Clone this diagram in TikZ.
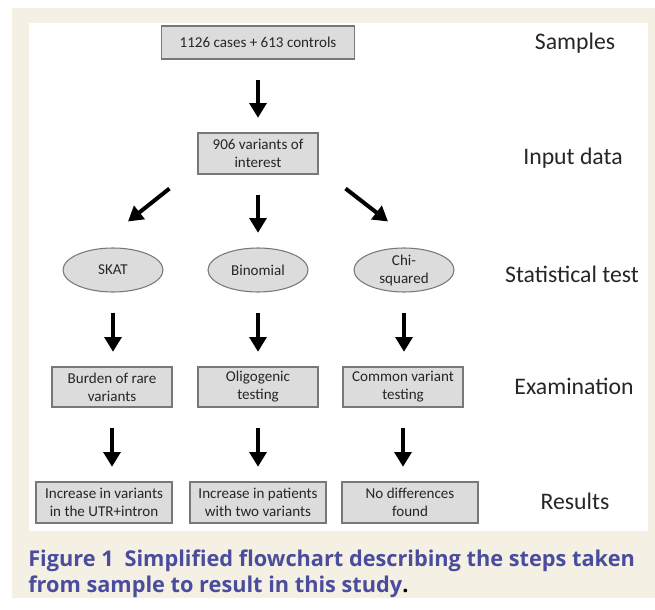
\documentclass[tikz,border=0pt]{standalone}
\usepackage{fontspec}
\setmainfont{Carlito}
\newfontfamily\capfont{Open Sans}
\usetikzlibrary{arrows.meta,shapes.geometric}

\definecolor{cream}{RGB}{244,240,227}
\definecolor{boxgray}{RGB}{220,220,220}
\definecolor{edgegray}{RGB}{120,120,120}
\definecolor{capblue}{RGB}{74,76,158}

\begin{document}
\begin{tikzpicture}[x=0.75pt, y=-0.75pt,
    stepbox/.style={draw=edgegray, fill=boxgray, line width=0.8pt, align=center,
        inner sep=0pt, font=\fontsize{11.3}{13.5}\selectfont, text=black!85},
    testoval/.style={ellipse, draw=edgegray, fill=boxgray, line width=0.8pt, align=center,
        inner sep=0pt, minimum width=75pt, minimum height=33pt,
        font=\fontsize{11.3}{13.5}\selectfont, text=black!85},
    stage/.style={font=\fontsize{17.8}{20}\selectfont, text=black!85},
    arr/.style={line width=3pt, -{Triangle[width=12.5pt, length=11pt]},
        shorten <=15pt, shorten >=11pt}]
    \useasboundingbox (0,0) rectangle (655,609);
    % background
    \fill[white] (0,0) rectangle (655,609);
    \fill[cream] (12,8) rectangle (655,598);
    \fill[white] (29,23) rectangle (648,531);

    % flow
    \node[stepbox, minimum width=144.75pt, minimum height=24.75pt] (samples) at (258,42.5) {1126 cases + 613 controls};
    \node[stepbox, minimum width=90pt, minimum height=30.75pt] (input) at (258,153.5) {906 variants of\\interest};

    \node[testoval] (skat) at (113,270) {SKAT};
    \node[testoval] (binom) at (258,270) {Binomial};
    \node[testoval] (chisq) at (404,270) {Chi-\\squared};

    \node[stepbox, minimum width=90pt, minimum height=30pt] (burden) at (112,387) {Burden of rare\\variants};
    \node[stepbox, minimum width=90pt, minimum height=30pt] (oligo) at (258,387) {Oligogenic\\testing};
    \node[stepbox, minimum width=90pt, minimum height=30pt] (common) at (403,387) {Common variant\\testing};

    \node[stepbox, minimum width=102pt, minimum height=30.75pt] (res1) at (104,502.5) {Increase in variants\\in the UTR+intron};
    \node[stepbox, minimum width=102pt, minimum height=30.75pt] (res2) at (258,502.5) {Increase in patients\\with two variants};
    \node[stepbox, minimum width=102pt, minimum height=30.75pt] (res3) at (410,502.5) {No differences\\found};

    \draw[arr] (samples) -- (input);
    \draw[arr, shorten <=0pt, shorten >=0pt] ([shift={(-28,14)}]input.south west) -- ([shift={(15,-26)}]skat.north);
    \draw[arr] (input) -- (binom);
    \draw[arr, shorten <=0pt, shorten >=0pt] ([shift={(27,14)}]input.south east) -- ([shift={(-16,-26)}]chisq.north);
    \draw[arr] (skat) -- (skat |- burden.north);
    \draw[arr] (binom) -- (oligo);
    \draw[arr] (chisq) -- (chisq |- common.north);
    \draw[arr] (burden) -- (burden |- res1.north);
    \draw[arr] (oligo) -- (res2);
    \draw[arr] (common) -- (common |- res3.north);

    % stage labels
    \node[stage] (lsamp) at (575,43) {Samples};
    \node[stage] (linput) at (573,158) {Input data};
    \node[stage] (ltest) at (572,274) {Statistical test};
    \node[stage] (lexam) at (574,386) {Examination};
    \node[stage] (lres) at (575,501) {Results};

    % caption
    \node[anchor=base west, inner sep=0pt, text=capblue,
        font=\capfont\bfseries\fontsize{16.3}{20}\selectfont] (caption1) at (28,566)
        {Figure 1\enspace Simplified flowchart describing the steps taken};
    \node[anchor=base west, inner sep=0pt, text=capblue,
        font=\capfont\bfseries\fontsize{16.3}{20}\selectfont] (caption2) at (28,592)
        {from sample to result in this study{\color{black}.}};
\end{tikzpicture}
\end{document}
